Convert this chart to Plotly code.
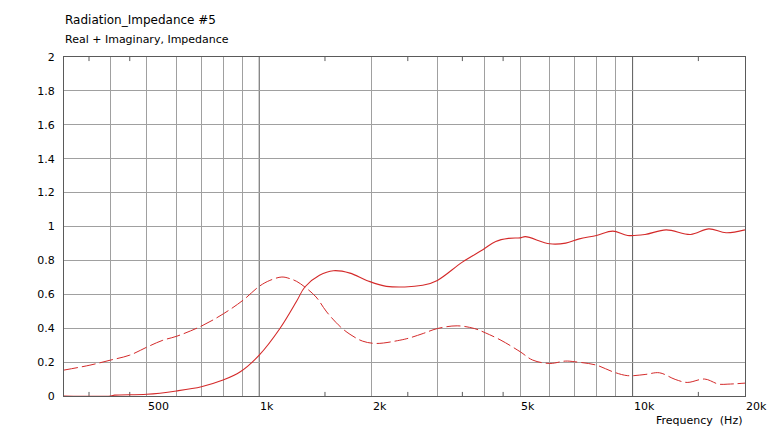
import math
import plotly.graph_objects as go

# ---- data ----
real_freq = [300, 400, 410, 500, 600, 700, 800, 890, 1000, 1136, 1260, 1325, 1450, 1580, 1750,
             1940, 2190, 2740, 3000, 3500, 3970, 4300, 4650, 5000, 5160, 6000, 6620, 7200, 8000,
             8850, 9700, 10800, 12300, 14300, 16000, 17800, 20000]
real_vals = [0.0, 0.0, 0.005, 0.01, 0.03, 0.055, 0.094, 0.143, 0.241, 0.398, 0.56, 0.643, 0.712,
             0.739, 0.725, 0.682, 0.647, 0.653, 0.682, 0.79, 0.863, 0.912, 0.93, 0.933, 0.94, 0.898,
             0.902, 0.927, 0.947, 0.973, 0.947, 0.953, 0.98, 0.953, 0.986, 0.963, 0.98]

imag_freq = [300, 352, 400, 450, 502, 552, 602, 702, 803, 905, 1000, 1068, 1150, 1210, 1260,
             1325, 1420, 1516, 1650, 1750, 1890, 2060, 2380, 2530, 2750, 3000, 3390, 3770,
             4030, 4440, 5000, 5400, 6000, 6600, 7000, 8000, 8850, 9700, 10800, 11800, 13000,
             14000, 15600, 17000, 18000, 20000]
imag_vals = [0.153, 0.182, 0.212, 0.241, 0.29, 0.329, 0.353, 0.414, 0.486, 0.565, 0.647, 0.682,
             0.702, 0.692, 0.676, 0.643, 0.584, 0.496, 0.408, 0.364, 0.324, 0.31, 0.329, 0.343,
             0.369, 0.398, 0.414, 0.398, 0.373, 0.329, 0.261, 0.212, 0.192, 0.206, 0.202, 0.182,
             0.143, 0.12, 0.127, 0.137, 0.098, 0.08, 0.1, 0.07, 0.07, 0.076]

grid_freqs = [400, 500, 600, 700, 800, 900, 2000, 3000, 4000, 5000, 6000, 7000, 8000, 9000]
decade_freqs = [1000, 10000]
minor_tick_freqs = [350, 450, 1500, 2500, 3500, 4500, 15000]
x_label_freqs = [500, 1000, 2000, 5000, 10000, 20000]
x_label_text = ["500", "1k", "2k", "5k", "10k", "20k"]

title_text = "Radiation_Impedance #5"
subtitle_text = "Real + Imaginary, Impedance"
x_title = "Frequency  (Hz)"

RED = "#d42a2a"
GRID = "#a0a0a0"
DARK = "#5a5a5a"
FONT = "DejaVu Sans"

fig = go.Figure()
fig.add_trace(go.Scatter(x=imag_freq, y=imag_vals, mode="lines", line=dict(color=RED, width=1, dash="14px,4px"),
                         line_shape="spline", showlegend=False, hoverinfo="skip"))
fig.add_trace(go.Scatter(x=real_freq, y=real_vals, mode="lines", line=dict(color=RED, width=1.1),
                         line_shape="spline", showlegend=False, hoverinfo="skip"))

shapes = []
for f in decade_freqs:
    shapes.append(dict(type="line", xref="x", yref="paper", x0=f, x1=f, y0=0, y1=1,
                       line=dict(color=DARK, width=1), layer="below"))
for f in minor_tick_freqs:
    shapes.append(dict(type="line", xref="x", yref="paper", x0=f, x1=f, y0=0, y1=0.012,
                       line=dict(color=DARK, width=1), layer="below"))
    shapes.append(dict(type="line", xref="x", yref="paper", x0=f, x1=f, y0=1, y1=0.988,
                       line=dict(color=DARK, width=1), layer="below"))

annotations = []
for f, t in zip(x_label_freqs, x_label_text):
    annotations.append(dict(x=math.log10(f), xref="x", y=0, yref="paper", text=t, showarrow=False,
                            xanchor="left", yanchor="top", yshift=-2, xshift=-1,
                            font=dict(family=FONT, size=11, color="#000")))
annotations.append(dict(x=1, xref="paper", y=0, yref="paper", text=x_title, showarrow=False,
                        xanchor="right", yanchor="top", yshift=-16, xshift=-1,
                        font=dict(family=FONT, size=11, color="#000")))
annotations.append(dict(x=0, xref="paper", y=1, yref="paper", text=title_text, showarrow=False,
                        xanchor="left", yanchor="middle", yshift=37, xshift=-1,
                        font=dict(family=FONT, size=12, color="#000")))
annotations.append(dict(x=0, xref="paper", y=1, yref="paper", text=subtitle_text, showarrow=False,
                        xanchor="left", yanchor="middle", yshift=18, xshift=-1,
                        font=dict(family=FONT, size=11, color="#000")))

fig.update_layout(
    width=768, height=431,
    margin=dict(l=64, r=23, t=57, b=35),
    paper_bgcolor="white", plot_bgcolor="white",
    font=dict(family=FONT, size=11, color="#000"),
    shapes=shapes, annotations=annotations,
    xaxis=dict(type="log", range=[math.log10(300), math.log10(20000)],
               tickmode="array", tickvals=grid_freqs, showticklabels=False, ticks="",
               showgrid=True, gridcolor=GRID, gridwidth=1, zeroline=False,
               showline=True, linecolor=DARK, linewidth=1, mirror=True, layer="below traces"),
    yaxis=dict(range=[0, 2], tick0=0, dtick=0.2, ticks="", ticklabelstandoff=6,
               showgrid=True, gridcolor=GRID, gridwidth=1, zeroline=False,
               showline=True, linecolor=DARK, linewidth=1, mirror=True, layer="below traces",
               tickfont=dict(family=FONT, size=11, color="#000")),
)

fig.write_html("out.html", config={"displayModeBar": False},
               post_script="document.body.style.margin='0';document.body.style.overflow='hidden';")
